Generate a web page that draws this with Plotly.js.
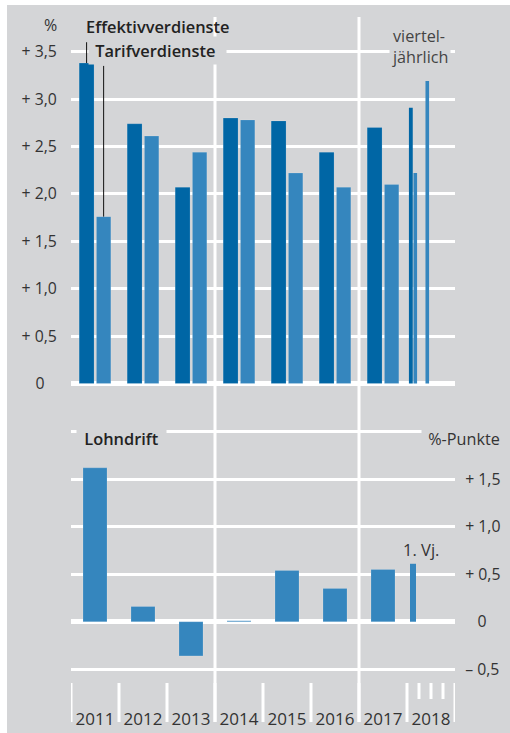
<!DOCTYPE html>
<html>
<head>
<meta charset="utf-8">
<script src="https://cdn.plot.ly/plotly-3.0.1.min.js"></script>
<style>
  html, body { margin: 0; padding: 0; background: #ffffff; }
  #chart { position: absolute; left: 7px; top: 5px; width: 503px; height: 728px; }
</style>
</head>
<body>
<div id="chart"></div>
<script>
// ---- data ----
const years = ["2011", "2012", "2013", "2014", "2015", "2016", "2017", "2018"];
const annualYears = ["2011", "2012", "2013", "2014", "2015", "2016", "2017"];
const effektiv = [3.38, 2.74, 2.07, 2.80, 2.77, 2.44, 2.70];
const tarif = [1.76, 2.61, 2.44, 2.78, 2.22, 2.07, 2.10];
const quarters2018 = ["Q1", "Q2", "Q3", "Q4"];
const effektiv2018q = [2.91];
const tarif2018q = [2.22, 3.19];
const lohndrift = [1.62, 0.16, -0.36, 0.01, 0.54, 0.35, 0.55];
const lohndrift2018q = [0.61];
const topTickVals = [0, 0.5, 1.0, 1.5, 2.0, 2.5, 3.0, 3.5];
const topTickText = ["0\u00a0\u00a0\u00a0", "+ 0,5", "+ 1,0", "+ 1,5", "+ 2,0", "+ 2,5", "+ 3,0", "+ 3,5"];
const botTickVals = [-0.5, 0, 0.5, 1.0, 1.5, 2.0];
const botTickText = ["\u2013 0,5", "\u00a0\u00a0\u00a00", "+ 0,5", "+ 1,0", "+ 1,5", ""];

// ---- styling ----
const DARK = "#0066a5";
const LIGHT = "#3586be";
const BG = "#d4d5d7";
const FONT = "Open Sans, Noto Sans, sans-serif";

// positions: year index -> x; 2018 quarters subdivide the last year
const xYear = annualYears.map((_, i) => i);
const y2018 = years.indexOf("2018");
const qx = q => y2018 - 0.5 + (q + 0.5) / quarters2018.length;
const xEq = effektiv2018q.map((_, q) => qx(q));
const xTq = tarif2018q.map((_, q) => qx(q));
const xDq = lohndrift2018q.map((_, q) => qx(q));

// page-pixel helpers (plot area from x 71..455, y 17..683 in page coords)
const px = xp => (xp - 71) / 384;
const py = yp => (683 - yp) / 666;

const traces = [
  { type: "bar", x: xYear, y: effektiv, width: 0.31, offset: -0.33,
    marker: { color: DARK, line: { color: "rgba(255,255,255,0.25)", width: 0.6 } }, xaxis: "x", yaxis: "y", hoverinfo: "skip" },
  { type: "bar", x: xYear, y: tarif, width: 0.30, offset: 0.03,
    marker: { color: LIGHT, line: { color: "rgba(255,255,255,0.25)", width: 0.6 } }, xaxis: "x", yaxis: "y", hoverinfo: "skip" },
  { type: "bar", x: xEq, y: effektiv2018q, width: 0.08, offset: -0.085,
    marker: { color: DARK }, xaxis: "x", yaxis: "y", hoverinfo: "skip" },
  { type: "bar", x: xTq, y: tarif2018q, width: 0.075, offset: 0.01,
    marker: { color: LIGHT }, xaxis: "x", yaxis: "y", hoverinfo: "skip" },
  { type: "bar", x: xYear, y: lohndrift, width: 0.5, offset: -0.25,
    marker: { color: LIGHT, line: { color: "rgba(255,255,255,0.25)", width: 0.6 } }, xaxis: "x", yaxis: "y2", hoverinfo: "skip" },
  { type: "bar", x: xDq, y: lohndrift2018q, width: 0.125, offset: -0.0625,
    marker: { color: LIGHT }, xaxis: "x", yaxis: "y2", hoverinfo: "skip" }
];

const shapes = [];
// vertical white separators through both panels
[2.5, 5.5].forEach(v => shapes.push({ type: "line", xref: "x", yref: "paper", x0: v, x1: v,
  y0: py(722), y1: 1, line: { color: "#ffffff", width: 3 }, layer: "below" }));
// year separators below axis
for (let i = 0; i <= years.length; i++) {
  shapes.push({ type: "line", xref: "x", yref: "paper", x0: i - 0.5, x1: i - 0.5,
    y0: 0, y1: py(722), line: { color: "#ffffff", width: 3 }, layer: "above" });
}
for (let q = 1; q < quarters2018.length; q++) {
  const v = y2018 - 0.5 + q / quarters2018.length;
  shapes.push({ type: "line", xref: "x", yref: "paper", x0: v, x1: v,
    y0: 0, y1: py(699), line: { color: "#ffffff", width: 3 }, layer: "above" });
}
// legend leader lines
shapes.push({ type: "line", xref: "x", yref: "y", x0: -0.33 + 0.155, x1: -0.33 + 0.155,
  y0: effektiv[0], y1: 3.60, line: { color: "#111", width: 1 }, layer: "above" });
shapes.push({ type: "line", xref: "x", yref: "y", x0: 0.03 + 0.15, x1: 0.03 + 0.15,
  y0: tarif[0], y1: 3.35, line: { color: "#111", width: 1 }, layer: "above" });

const annFont = (sz, col, w) => ({ family: FONT, size: sz, color: col, weight: w || 400 });
const annotations = [
  { text: "%", xref: "paper", yref: "paper", x: px(50), y: py(25), xanchor: "center", yanchor: "middle",
    showarrow: false, font: annFont(16, "#333") },
  { text: "\u00a0Tarifverdienste\u00a0\u00a0", xref: "paper", yref: "paper", x: px(88), y: py(50.5), xanchor: "left", yanchor: "middle",
    showarrow: false, bgcolor: BG, borderpad: 2, font: annFont(16.4, "#222", 600) },
  { text: "Effektivverdienste", xref: "paper", yref: "paper", x: px(84), y: py(27), xanchor: "left", yanchor: "middle",
    showarrow: false, borderpad: 1, font: annFont(16.4, "#222", 600) },
  { text: "viertel-<br>jährlich", xref: "paper", yref: "paper", x: px(389), y: py(47), xanchor: "left", yanchor: "middle",
    align: "left", showarrow: false, bgcolor: BG, borderpad: 2, font: annFont(16.2, "#444") },
  { text: "\u00a0Lohndrift\u00a0", xref: "paper", yref: "paper", x: px(76), y: py(438.5), xanchor: "left", yanchor: "middle",
    showarrow: false, bgcolor: BG, borderpad: 3, font: annFont(16.4, "#222", 600) },
  { text: "\u00a0%-Punkte", xref: "paper", yref: "paper", x: px(421), y: py(439), xanchor: "left", yanchor: "middle",
    showarrow: false, bgcolor: BG, borderpad: 2, font: annFont(16.2, "#333") },
  { text: "1. Vj.", xref: "paper", yref: "paper", x: px(420.5), y: py(549.5), xanchor: "center", yanchor: "middle",
    showarrow: false, font: annFont(16.5, "#333") }
];

const layout = {
  width: 503, height: 728,
  margin: { l: 64, r: 55, t: 12, b: 50 },
  paper_bgcolor: BG, plot_bgcolor: BG,
  showlegend: false, barmode: "overlay",
  font: { family: FONT, size: 15, color: "#333" },
  xaxis: {
    range: [-0.5, years.length - 0.5], anchor: "y2",
    tickmode: "array", tickvals: years.map((_, i) => i), ticktext: years,
    ticks: "outside", ticklen: 21, tickcolor: "rgba(0,0,0,0)",
    tickfont: { family: FONT, size: 17, color: "#333" },
    showgrid: false, zeroline: false, showline: false, fixedrange: true
  },
  yaxis: {
    domain: [py(389), 1], range: [-0.058, 3.866],
    tickmode: "array", tickvals: topTickVals, ticktext: topTickText,
    ticks: "outside", ticklen: 10, tickcolor: "rgba(0,0,0,0)",
    tickfont: { family: FONT, size: 15.8, color: "#333" },
    showgrid: true, gridcolor: "#ffffff", gridwidth: 3,
    zeroline: true, zerolinecolor: "#ffffff", zerolinewidth: 5, showline: false
  },
  yaxis2: {
    domain: [0, py(425)], range: [-0.645, 2.071], side: "right", anchor: "x",
    tickmode: "array", tickvals: botTickVals, ticktext: botTickText,
    ticks: "outside", ticklen: 6, tickcolor: "rgba(0,0,0,0)",
    tickfont: { family: FONT, size: 15.8, color: "#333" },
    showgrid: true, gridcolor: "#ffffff", gridwidth: 3,
    zeroline: true, zerolinecolor: "#ffffff", zerolinewidth: 5, showline: false
  },
  shapes: shapes,
  annotations: annotations
};

Plotly.newPlot("chart", traces, layout, { displayModeBar: false, staticPlot: true });
</script>
</body>
</html>
